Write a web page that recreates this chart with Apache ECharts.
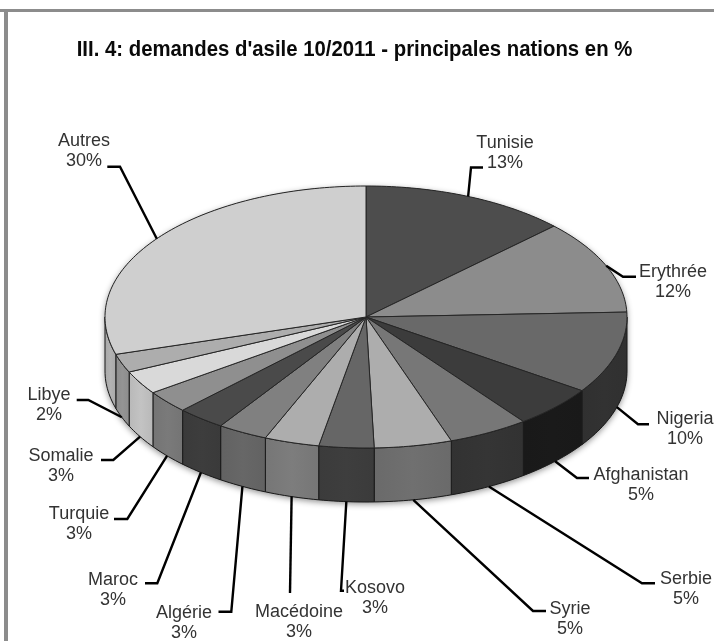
<!DOCTYPE html>
<html><head><meta charset="utf-8">
<style>html,body{margin:0;padding:0;background:#fff}#c{width:714px;height:641px}</style>
<script src="https://cdn.jsdelivr.net/npm/echarts@6/dist/echarts.min.js"></script>
</head><body><div id="c"></div>
<script>
const chartTitle = "III. 4: demandes d'asile 10/2011 - principales nations en %";
const categories = ["Tunisie","Erythrée","Nigeria","Afghanistan","Serbie","Syrie","Kosovo","Macédoine","Algérie","Maroc","Turquie","Somalie","Libye","Autres"];
const values = [12.8,11.6,10.1,5.2,5.0,4.8,3.4,3.4,3.1,3.0,2.8,2.9,2.3,29.6];
const valueLabels = ["13%","12%","10%","5%","5%","5%","3%","3%","3%","3%","3%","3%","2%","30%"];
const topColors = ["#4d4d4d","#8c8c8c","#696969","#3c3c3c","#777777","#adadad","#666666","#adadad","#808080","#4a4a4a","#8f8f8f","#d9d9d9","#adadad","#cfcfcf"];
const sideColors = ["#333333","#5a5a5a","#303030","#191919","#323232","#6a6a6a","#3b3b3b","#767676","#626262","#3a3a3a","#747474","#b8b8b8","#8c8c8c","#a8a8a8"];
// label centre x, first-line centre y, elbow x, elbow y, end x (annotation layout)
const labelLayout = [
 [505,143,471,167.5,483],[673,272,623,276.7,636],[685,419,638,424.3,649],[641,475,577,478,589],
 [686,579,642,583.3,655],[570,609,533,611,546],[375,588,341,590.7,344],[299,612,290,593,290],
 [184,613,231.3,611.7,218.5],[113,580,157.3,583.3,145],[79,514,127.3,519,114],[61,456,113.3,460,101],
 [49,395,88.3,400,76.7],[84,141,120,166.7,107.3]];

const CX=366, CY=317, RX=261, RY=131, DEPTH=54;
const total = values.reduce((a,b)=>a+b,0);
const starts = []; values.reduce((acc,v,i)=>{starts[i]=acc;return acc+v;},0);
const angleOf = v => v/total*Math.PI*2;
const rim = (a,dy=0) => [CX+RX*Math.sin(a), CY-RY*Math.cos(a)+dy];
function arc(a0,a1,dy){const n=Math.max(2,Math.ceil((a1-a0)/0.02));const p=[];for(let i=0;i<=n;i++)p.push(rim(a0+(a1-a0)*i/n,dy));return p;}
const rows = categories.map((c,i)=>({name:c,value:values[i]}));

function shadowItem(params,api){
  if(params.dataIndex!==0) return {type:'group',children:[]};
  const pts=arc(Math.PI/2,Math.PI*1.5,DEPTH).concat(arc(Math.PI*1.5,Math.PI*2.5,0));
  return {type:'polygon',shape:{points:pts},style:{fill:'#666',shadowBlur:6,shadowColor:'rgba(0,0,0,0.45)',shadowOffsetY:2},silent:true};
}
function sideItem(params,api){
  const i=params.dataIndex, a0=Math.max(angleOf(starts[i]),Math.PI/2), a1=Math.min(angleOf(starts[i]+api.value(0)),Math.PI*1.5);
  if(a1<=a0) return {type:'group',children:[]};
  const pts=arc(a0,a1,0).concat(arc(a0,a1,DEPTH).reverse());
  const c=sideColors[i];
  return {type:'polygon',shape:{points:pts},style:{fill:new echarts.graphic.LinearGradient(0,0,1,0,[{offset:0,color:c},{offset:0.5,color:echarts.color.lift(c,-0.06)},{offset:1,color:c}]),stroke:'#1a1a1a',lineWidth:1}};
}
function topItem(params,api){
  const i=params.dataIndex, a0=angleOf(starts[i]), a1=a0+angleOf(api.value(0));
  return {type:'polygon',shape:{points:[[CX,CY]].concat(arc(a0,a1,0))},style:{fill:topColors[i],stroke:'#262626',lineWidth:1,lineJoin:'round'}};
}
function labelItem(params,api){
  const i=params.dataIndex, a=angleOf(starts[i]+api.value(0)/2), L=labelLayout[i];
  const front=Math.cos(a)<0;
  const from=rim(a,front?DEPTH:0);
  const text=categories[i]+"\n"+valueLabels[i];
  return {type:'group',children:[
    {type:'polyline',shape:{points:[from,[L[2],L[3]],[L[4],L[3]]]},style:{stroke:'#000',lineWidth:2.4,fill:null}},
    {type:'text',x:L[0],y:L[1]-10.5,style:{text:text,fill:'#333',font:'18px "Liberation Sans", Arial, sans-serif',align:'center',verticalAlign:'top',lineHeight:20.5}}
  ]};
}
const chart=echarts.init(document.getElementById('c'),null,{renderer:'canvas'});
const mk=(name,fn,z)=>({type:'custom',name,coordinateSystem:'none',renderItem:fn,data:rows.map(r=>[r.value]),z,animation:false,silent:true,clip:false});
chart.setOption({
  backgroundColor:'#fff',animation:false,
  graphic:[
    {type:'rect',shape:{x:0,y:9,width:714,height:3},style:{fill:'#8c8c8c'},silent:true},
    {type:'rect',shape:{x:4,y:9,width:4,height:632},style:{fill:'#8c8c8c'},silent:true},
    {type:'text',x:354.5,y:50,scaleX:0.925,style:{text:chartTitle,fill:'#0a0a0a',font:'bold 22px "Liberation Sans", Arial, sans-serif',align:'center',verticalAlign:'middle'},silent:true}
  ],
  series:[mk('shadow',shadowItem,1),mk('sides',sideItem,2),mk('tops',topItem,3),mk('labels',labelItem,4)]
});
</script></body></html>
